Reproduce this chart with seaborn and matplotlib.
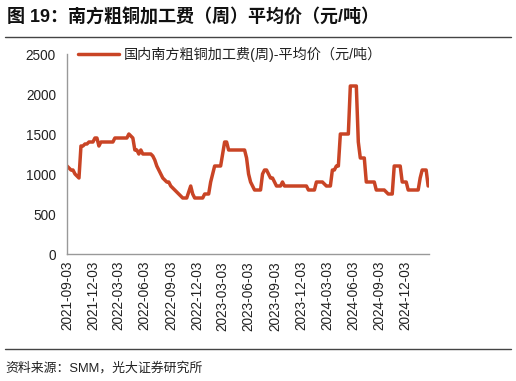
import pandas as pd
import numpy as np
import matplotlib
matplotlib.use('Agg')
import matplotlib.pyplot as plt
import seaborn as sns

sns.set_theme(style="white")
plt.rcParams['font.family'] = ['Liberation Sans', 'Noto Sans CJK SC']
plt.rcParams['axes.unicode_minus'] = False

# Weekly data (Fridays)
start_date = '2021-09-03'
values = [
    1100, 1075, 1050, 1050, 1000, 975, 950, 1350, 1350, 1375,
    1375, 1400, 1400, 1400, 1450, 1450, 1350, 1400, 1400, 1400,
    1400, 1400, 1400, 1400, 1450, 1450, 1450, 1450, 1450, 1450,
    1450, 1500, 1475, 1450, 1300, 1300, 1250, 1300, 1250, 1250,
    1250, 1250, 1250, 1225, 1175, 1100, 1050, 1000, 950, 925,
    900, 900, 850, 825, 800, 775, 750, 725, 700, 700,
    700, 775, 850, 750, 700, 700, 700, 700, 700, 750,
    750, 750, 900, 1000, 1100, 1100, 1100, 1100, 1250, 1400,
    1400, 1300, 1300, 1300, 1300, 1300, 1300, 1300, 1300, 1300,
    1200, 1000, 900, 850, 800, 800, 800, 800, 1000, 1050,
    1050, 1000, 950, 950, 900, 850, 850, 850, 900, 850,
    850, 850, 850, 850, 850, 850, 850, 850, 850, 850,
    850, 800, 800, 800, 800, 900, 900, 900, 900, 875,
    850, 850, 850, 1050, 1050, 1100, 1100, 1500, 1500, 1500,
    1500, 1500, 2100, 2100, 2100, 2100, 1400, 1200, 1200, 1200,
    900, 900, 900, 900, 900, 800, 800, 800, 800, 800,
    775, 750, 750, 750, 1100, 1100, 1100, 1100, 900, 900,
    900, 800, 800, 800, 800, 800, 800, 950, 1050, 1050,
    1050, 850,
]
dates = pd.date_range(start_date, periods=len(values), freq='7D')

tick_labels = ['2021-09-03', '2021-12-03', '2022-03-03', '2022-06-03', '2022-09-03',
               '2022-12-03', '2023-03-03', '2023-06-03', '2023-09-03', '2023-12-03',
               '2024-03-03', '2024-06-03', '2024-09-03', '2024-12-03']
y_ticks = [0, 500, 1000, 1500, 2000, 2500]

series_name = '国内南方粗铜加工费(周)-平均价（元/吨）'
title = '图 19：南方粗铜加工费（周）平均价（元/吨）'
source = '资料来源：SMM，光大证券研究所'

df = pd.DataFrame({'date': dates, 'value': values})

fig = plt.figure(figsize=(5.16, 3.81), dpi=100)
ax = fig.add_axes([67 / 516, 1 - 254 / 381, (429 - 67) / 516, 200 / 381])

sns.lineplot(data=df, x='date', y='value', ax=ax, color='#C94425', linewidth=2.5,
             label=series_name)

ax.set_ylim(0, 2500)
ax.set_yticks(y_ticks)
ax.set_xlim(dates[0], dates[-1] + pd.Timedelta(days=3))
ax.set_xticks(pd.to_datetime(tick_labels))
ax.set_xticklabels(tick_labels, rotation=90)
ax.set_xlabel('')
ax.set_ylabel('')

for side in ['top', 'right']:
    ax.spines[side].set_visible(False)
for side in ['left', 'bottom']:
    ax.spines[side].set_color('#999999')
    ax.spines[side].set_linewidth(1.0)
ax.tick_params(axis='both', direction='in', length=4, width=0.8, color='#999999',
               labelsize=9.8, labelcolor='#222222')
ax.tick_params(axis='y', pad=8)
ax.tick_params(axis='x', pad=5)
ax.grid(False)

leg = ax.legend(loc='upper left', bbox_to_anchor=(0.015, 1.065), frameon=False,
                fontsize=10.2, handlelength=2.9, handletextpad=0.3, borderaxespad=0)
for t in leg.get_texts():
    t.set_color('#222222')

fig.text(7 / 516, 1 - 18 / 381, title, fontsize=13, fontweight='bold',
         va='center', ha='left', color='#111111')
fig.add_artist(plt.Line2D([5 / 516, 511 / 516], [1 - 37 / 381, 1 - 37 / 381],
                          color='#444444', linewidth=1.0))
fig.add_artist(plt.Line2D([5 / 516, 511 / 516], [1 - 349 / 381, 1 - 349 / 381],
                          color='#444444', linewidth=1.0))
fig.text(5 / 516, 1 - 368 / 381, source, fontsize=9.3, va='center', ha='left',
         color='#222222')

fig.savefig('out.png', dpi=100)
